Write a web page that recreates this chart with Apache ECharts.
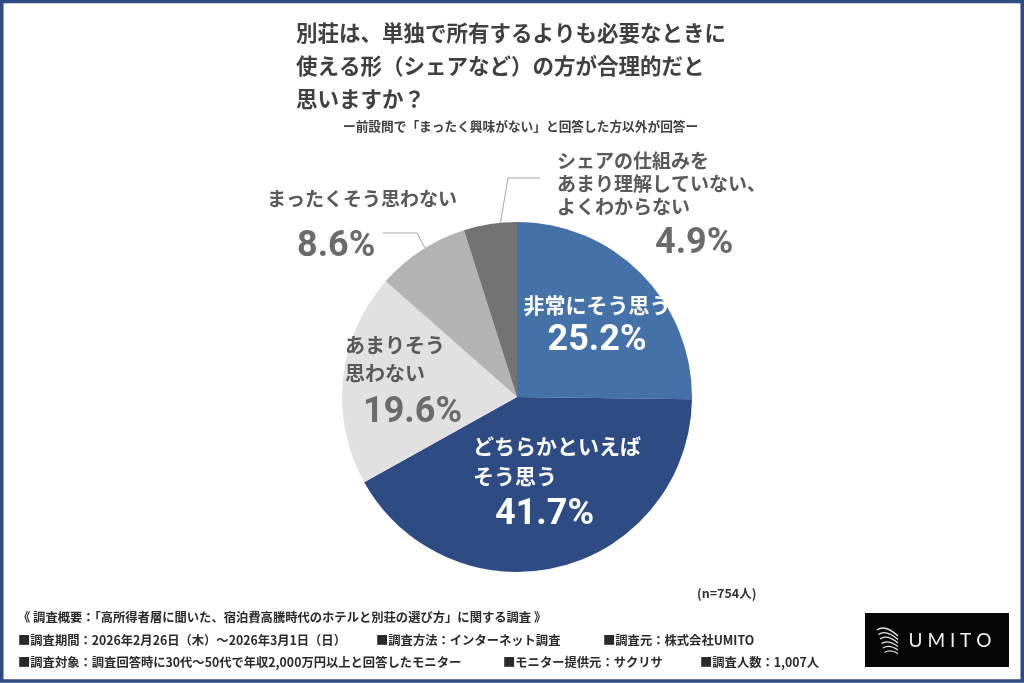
<!DOCTYPE html>
<html>
<head>
<meta charset="utf-8">
<script src="https://cdn.jsdelivr.net/npm/echarts@6/dist/echarts.min.js"></script>
<style>
  html, body { margin: 0; padding: 0; background: #fff; }
  #chart { width: 1024px; height: 683px; }
</style>
</head>
<body>
<div id="chart"></div>
<script>
var categories = ['非常にそう思う', 'どちらかといえばそう思う', 'あまりそう思わない', 'まったくそう思わない', 'シェアの仕組みをあまり理解していない、よくわからない'];
var labelLines = [
  ['非常にそう思う'],
  ['どちらかといえば', 'そう思う'],
  ['あまりそう', '思わない'],
  ['まったくそう思わない'],
  ['シェアの仕組みを', 'あまり理解していない、', 'よくわからない']
];
var values = [25.2, 41.7, 19.6, 8.6, 4.9];
var titleLines = ['別荘は、単独で所有するよりも必要なときに', '使える形（シェアなど）の方が合理的だと', '思いますか？'];
var subtitle = 'ー前設問で「まったく興味がない」と回答した方以外が回答ー';
var sampleNote = '(n=754人)';
var footerHead = '《 調査概要：「高所得者層に聞いた、宿泊費高騰時代のホテルと別荘の選び方」に関する調査 》';
var footerRow1 = ['■調査期間：2026年2月26日（木）～2026年3月1日（日）', '■調査方法：インターネット調査', '■調査元：株式会社UMITO'];
var footerRow2 = ['■調査対象：調査回答時に30代～50代で年収2,000万円以上と回答したモニター', '■モニター提供元：サクリサ', '■調査人数：1,007人'];

var colors = ['#4571a9', '#2f4b84', '#e1e1e1', '#b3b3b3', '#737373'];
var jp = '"Noto Sans CJK JP", sans-serif';
var num = 'Roboto, "Noto Sans", sans-serif';

// label block placement: [x, y(top), align]
var labelPlace = [
  [597, 290, 'center'],
  [473, 431, 'left'],
  [345, 331, 'left'],
  [267, 185, 'left'],
  [557, 149, 'left']
];
var leaderPoints = {
  3: [[425, 248], [417, 233], [383, 233]],
  4: [[498, 237], [508, 178], [540, 178]]
};

function richFor(i) {
  var inside = i < 2;
  var tColor = inside ? '#ffffff' : '#595959';
  var vColor = inside ? '#ffffff' : '#6b6b6b';
  var pad = [0, 0, 0, [0, 22, 18, 30, 98][i]];
  var tLH = [30, 30, 28, 28, 23][i];
  var vLH = [42, 48, 52, 68, 51][i];
  return {
    t: { color: tColor, fontFamily: jp, fontWeight: 'bold', fontSize: inside ? 21 : (i === 2 ? 20 : 19), lineHeight: tLH, align: i === 0 ? 'center' : 'left' },
    v: { color: vColor, fontFamily: num, fontWeight: 'bold', fontSize: 36, lineHeight: vLH, align: i === 0 ? 'center' : 'left', padding: pad }
  };
}

var pieData = values.map(function (v, i) {
  var outside = i >= 3;
  return {
    name: categories[i],
    value: v,
    itemStyle: { color: colors[i] },
    label: {
      show: true,
      position: outside ? 'outside' : 'inside',
      formatter: labelLines[i].map(function (s) { return '{t|' + s + '}'; }).join('\n') + '\n{v|' + v.toFixed(1) + '%}',
      rich: richFor(i)
    },
    labelLine: { show: outside, lineStyle: { color: '#a6a6a6', width: 1 } }
  };
});

function footText(x, y, s) {
  return { type: 'text', x: x, y: y, style: { text: s, fill: '#2a2a2a', font: 'bold 12.3px ' + jp, verticalAlign: 'middle' } };
}

var logoCurves = [];
for (var k = 0; k < 6; k++) {
  logoCurves.push({
    type: 'bezierCurve',
    shape: { x1: 877 + k * 1.5, y1: 630 + k * 4.5, x2: 898, y2: 636 + k * 3.5, cpx1: 885 + k, cpy1: 624 + k * 5 },
    style: { stroke: '#e6e6e6', lineWidth: 1.3, fill: null }
  });
}

var chart = echarts.init(document.getElementById('chart'), null, { renderer: 'canvas' });
chart.setOption({
  animation: false,
  backgroundColor: '#ffffff',
  title: [{
    text: titleLines.join('\n'),
    left: 291,
    top: 11,
    textStyle: { fontFamily: jp, fontSize: 21.5, fontWeight: 'bold', color: '#404040', lineHeight: 33 }
  }, {
    text: subtitle,
    left: 338,
    top: 115,
    textStyle: { fontFamily: jp, fontSize: 12.7, fontWeight: 'bold', color: '#404040' }
  }, {
    text: sampleNote,
    left: 692,
    top: 582,
    textStyle: { fontFamily: jp, fontSize: 12.5, fontWeight: 'bold', color: '#333' }
  }],
  series: [{
    type: 'pie',
    center: [517, 397],
    radius: 175,
    startAngle: 90,
    clockwise: true,
    avoidLabelOverlap: false,
    silent: true,
    itemStyle: { borderWidth: 0 },
    data: pieData,
    labelLayout: function (params) {
      var i = params.dataIndex;
      var p = labelPlace[i];
      var out = { x: p[0], y: p[1], align: p[2], verticalAlign: 'top' };
      if (leaderPoints[i]) out.labelLinePoints = leaderPoints[i];
      return out;
    }
  }],
  graphic: [
    { type: 'rect', shape: { x: 1.75, y: 1.5, width: 1020.5, height: 679.5 }, style: { fill: null, stroke: '#2f4b82', lineWidth: 3.5 }, silent: true },
    footText(18, 617, footerHead),
    footText(18, 640, footerRow1[0]),
    footText(376, 640, footerRow1[1]),
    footText(603, 640, footerRow1[2]),
    footText(18, 662, footerRow2[0]),
    footText(503, 662, footerRow2[1]),
    footText(700, 662, footerRow2[2]),
    { type: 'rect', shape: { x: 865, y: 613, width: 144, height: 54 }, style: { fill: '#050505' } },
    { type: 'text', x: 950, y: 641, style: { text: 'U M I T O', fill: '#f0f0f0', font: '19px Lato, "Open Sans", sans-serif', align: 'center', verticalAlign: 'middle' } }
  ].concat(logoCurves)
});
</script>
</body>
</html>
